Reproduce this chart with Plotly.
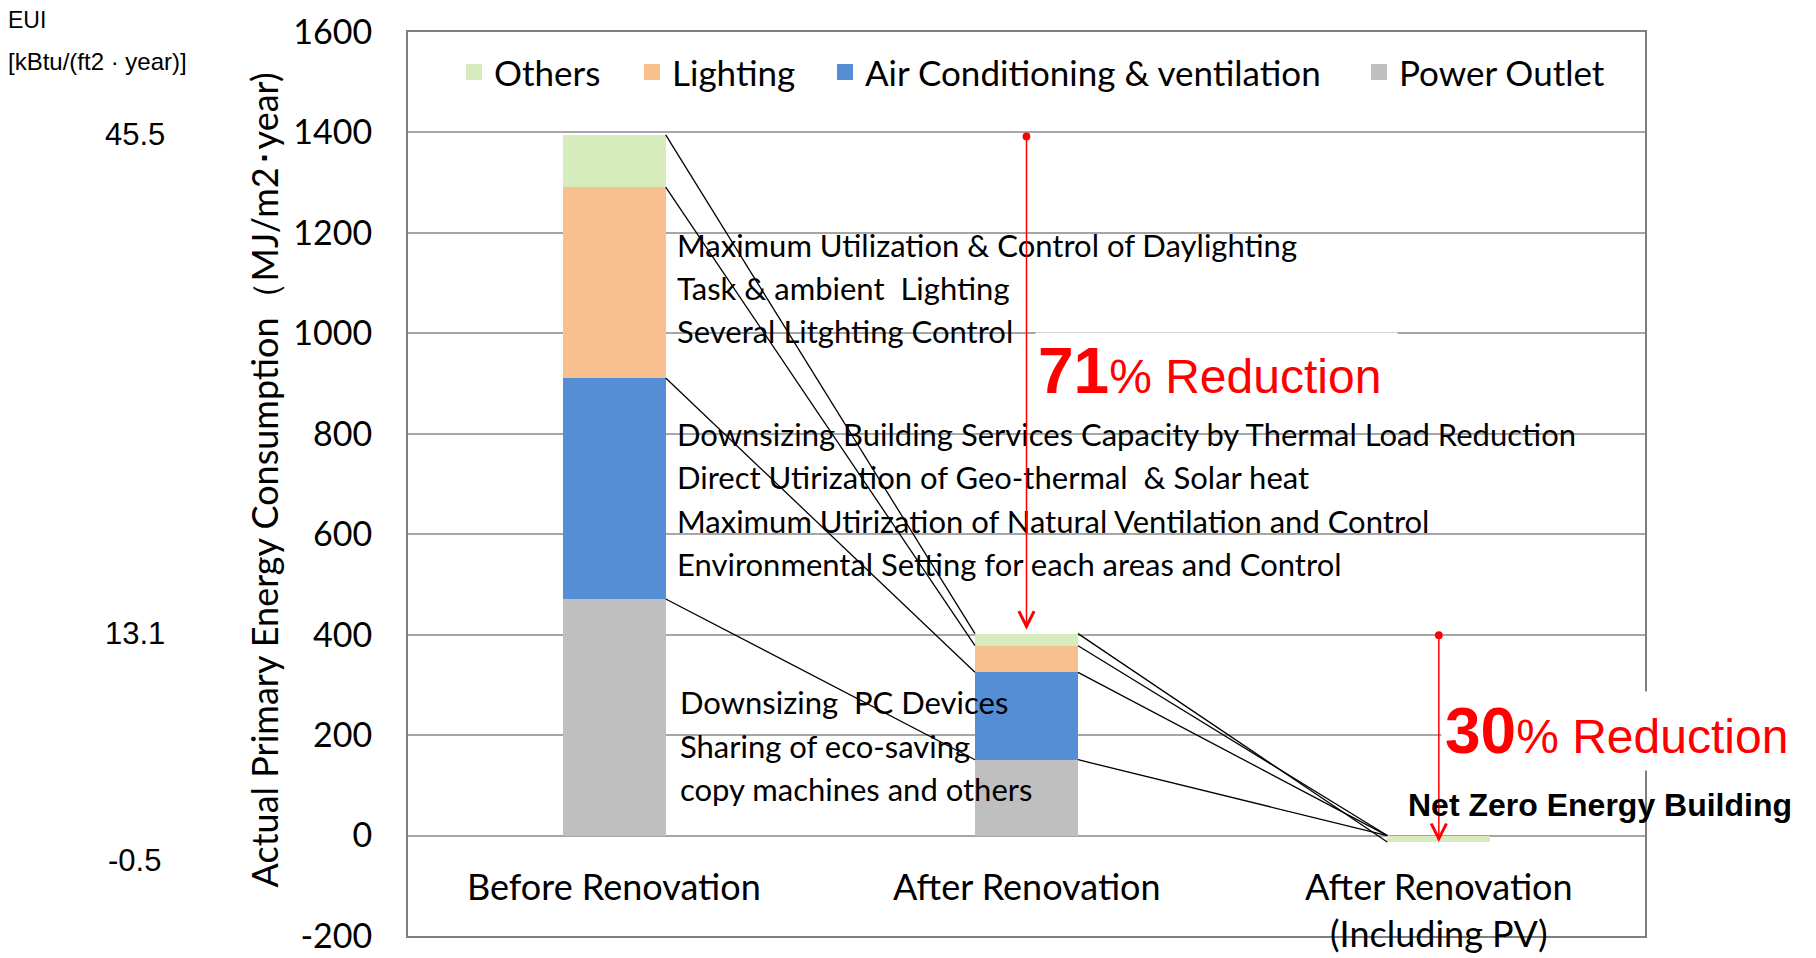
import plotly.graph_objects as go
import numpy as np

# ---------------- data ----------------
categories = ["Before Renovation", "After Renovation", "After Renovation<br>(Including PV)"]
series_names = ["Power Outlet", "Air Conditioning & ventilation", "Lighting", "Others"]
power_outlet = [471, 151, 0]
air_conditioning = [440, 174, 0]
lighting = [380, 53, 0]
others = [104, 24, -13]
eui_labels = ["45.5", "13.1", "-0.5"]
y_ticks = list(range(-200, 1601, 200))
y_ticktext = [str(v) for v in y_ticks]

measures_lighting = ["Maximum Utilization & Control of Daylighting",
                     "Task & ambient\u00a0\u00a0Lighting",
                     "Several Litghting Control"]
measures_ac = ["Downsizing Building Services Capacity by Thermal Load Reduction",
               "Direct Utirization of Geo-thermal\u00a0\u00a0& Solar heat",
               "Maximum Utirization of Natural Ventilation and Control",
               "Environmental Setting for each areas and Control"]
measures_outlet = ["Downsizing\u00a0\u00a0PC Devices",
                   "Sharing of eco-saving",
                   "copy machines and others"]
reduction_1 = "71"
reduction_2 = "30"

# ---------------- styles / layout positions ----------------
colors = {"Power Outlet": "#bfbfbf",
          "Air Conditioning & ventilation": "#558ed5",
          "Lighting": "#f9c08f",
          "Others": "#d6ecbd"}
CAL = "Lato, 'Open Sans', sans-serif"
ARIAL = "'Liberation Sans', Arial, sans-serif"
BAR_W = 0.25
line_y_lighting = [1175, 1090, 1005]
line_y_ac = [800, 714, 627, 541]
line_y_outlet = [266, 178, 93]
legend_x = {"Others": 0.0372, "Lighting": 0.1811,
            "Air Conditioning & ventilation": 0.3371, "Power Outlet": 0.7688}

series = [power_outlet, air_conditioning, lighting, others]
xpos = list(range(len(categories)))

fig = go.Figure()
for name, vals in zip(series_names, series):
    fig.add_trace(go.Bar(x=xpos, y=vals, name=name, width=BAR_W,
                         marker=dict(color=colors[name], line=dict(width=0)),
                         showlegend=False, hoverinfo="skip"))

# connecting lines between segment ends
levels = np.cumsum(np.array(series), axis=0)  # (series, bars)
totals = levels[-1]
for b in range(len(categories) - 1):
    for s in range(len(series)):
        fig.add_trace(go.Scatter(
            x=[xpos[b] + BAR_W / 2, xpos[b + 1] - BAR_W / 2],
            y=[levels[s][b], levels[s][b + 1]],
            mode="lines", line=dict(color="black", width=1.3),
            showlegend=False, hoverinfo="skip"))

# legend entries (one legend per item so spacing matches)
legend_order = ["Others", "Lighting", "Air Conditioning & ventilation", "Power Outlet"]
legend_layouts = {}
for i, name in enumerate(legend_order):
    lname = "legend" if i == 0 else "legend%d" % (i + 1)
    fig.add_trace(go.Scatter(x=[None], y=[None], mode="markers", name=name,
                             marker=dict(symbol="square", size=20, color=colors[name]),
                             legend=lname, hoverinfo="skip"))
    legend_layouts[lname] = dict(orientation="h", x=legend_x[name], y=0.9556,
                                 xanchor="left", yanchor="middle",
                                 bgcolor="rgba(0,0,0,0)", itemsizing="trace",
                                 font=dict(family=CAL, size=35, color="black"))

ann = []
# category labels (inside the plot, below the zero line)
for i, c in enumerate(categories):
    ann.append(dict(x=xpos[i], y=-52, xref="x", yref="y", text=c, showarrow=False,
                    xanchor="center", yanchor="top",
                    font=dict(family=CAL, size=36, color="black")))

# measure texts
for lines, ys, xs in [(measures_lighting, line_y_lighting, 9),
                      (measures_ac, line_y_ac, 9),
                      (measures_outlet, line_y_outlet, 12)]:
    for t, yv in zip(lines, ys):
        ann.append(dict(x=BAR_W / 2, xshift=xs, y=yv, xref="x", yref="y",
                        text=t, showarrow=False, xanchor="left", yanchor="middle",
                        font=dict(family=CAL, size=31, color="black")))

# red arrows
standoffs = [4, 0]
for b in range(len(categories) - 1):
    ann.append(dict(x=xpos[b + 1], y=totals[b + 1], ax=xpos[b + 1], ay=totals[b],
                    xref="x", yref="y", axref="x", ayref="y", text="",
                    showarrow=True, arrowhead=5, arrowsize=2, arrowwidth=1.5,
                    arrowcolor="#ff0000", arrowside="end+start",
                    startarrowhead=6, startarrowsize=1.3, standoff=standoffs[b]))

# reduction texts
ann.append(dict(x=1, xshift=8.5, y=926, xref="x", yref="y",
                text="<b><span style='font-size:64px'>%s</span></b>%% Reduction\u00a0" % reduction_1,
                showarrow=False, xanchor="left", yanchor="middle",
                bgcolor="white", borderpad=2,
                font=dict(family=ARIAL, size=48, color="#ff0000")))
ann.append(dict(x=2, xshift=2, y=208, xref="x", yref="y",
                text="<b><span style='font-size:64px'>%s</span></b>%% Reduction" % reduction_2,
                showarrow=False, xanchor="left", yanchor="middle",
                bgcolor="white", borderpad=3,
                font=dict(family=ARIAL, size=48, color="#ff0000")))
ann.append(dict(x=1.9215, y=61, xref="x", yref="y",
                text="<b>Net Zero Energy Building</b>", showarrow=False,
                xanchor="left", yanchor="middle",
                font=dict(family=ARIAL, size=32, color="black")))

# EUI secondary labels
ann.append(dict(x=-0.3247, y=1, xref="paper", yref="paper", yshift=12,
                text="EUI", showarrow=False, xanchor="left", yanchor="middle",
                font=dict(family=ARIAL, size=23, color="black")))
ann.append(dict(x=-0.3247, y=1, xref="paper", yref="paper", yshift=-29,
                text="[kBtu/(ft2 · year)]", showarrow=False, xanchor="left", yanchor="middle",
                font=dict(family=ARIAL, size=24, color="black")))
eui_shift = [0, 0, -18]
for lbl, t, sh in zip(eui_labels, totals, eui_shift):
    ann.append(dict(x=-0.2207, y=t, xref="paper", yref="y", yshift=sh,
                    text=lbl, showarrow=False, xanchor="center", yanchor="middle",
                    font=dict(family=ARIAL, size=31, color="black")))

# y axis title
ann.append(dict(x=-0.1164, y=0.504, xref="paper", yref="paper",
                text="Actual Primary Energy Consumption（MJ/m2･year)",
                textangle=-90, showarrow=False, xanchor="center", yanchor="middle",
                font=dict(family=CAL, size=36, color="black")))

fig.update_layout(
    width=1808, height=950,
    margin=dict(l=400, r=171, t=24, b=22, autoexpand=False),
    barmode="relative",
    bargap=0,
    plot_bgcolor="white", paper_bgcolor="white",
    showlegend=True,
    annotations=ann,
    xaxis=dict(range=[-0.5, 2.5], showgrid=False, showticklabels=False, zeroline=False,
               showline=True, mirror=True, linecolor="#7f7f7f", linewidth=2, ticks="",
               automargin=False),
    yaxis=dict(range=[-200, 1600], tickvals=y_ticks, ticktext=y_ticktext,
               showgrid=True, gridcolor="#a6a6a6", automargin=False,
               gridwidth=2, zeroline=False, showline=True, mirror=True,
               linecolor="#7f7f7f", linewidth=2, ticks="", ticklabelstandoff=27,
               tickfont=dict(family=CAL, size=34, color="black")),
    **legend_layouts,
)

fig.write_html("out.html")
